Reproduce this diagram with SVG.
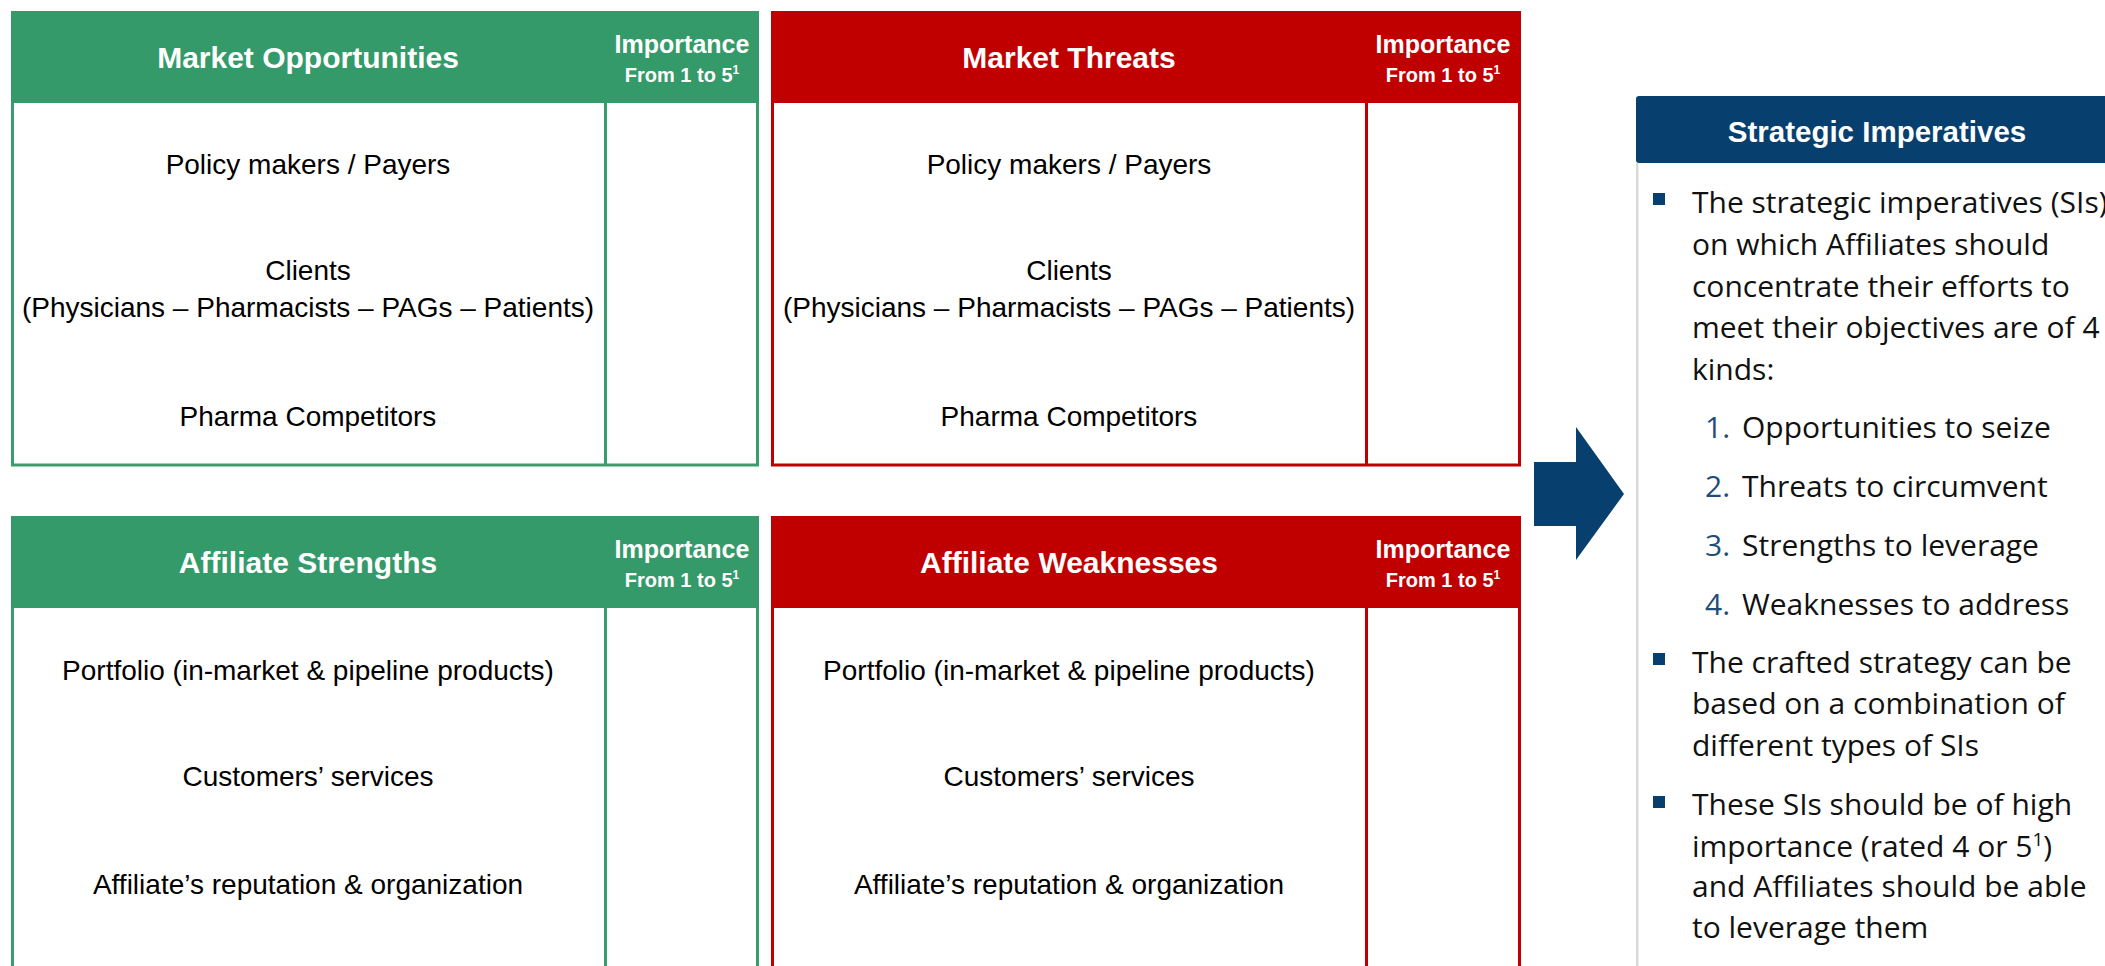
<svg xmlns="http://www.w3.org/2000/svg" width="2105" height="966" viewBox="0 0 2105 966">
<style>
.hdr-g{fill:#349A69}
.hdr-r{fill:#C00000}
.bd-g{fill:none;stroke:#3A9D6D;stroke-width:3}
.bd-r{fill:none;stroke:#C00000;stroke-width:3}
.title{font-family:"Liberation Sans",Arial,sans-serif;font-weight:bold;font-size:30px;fill:#fff;text-anchor:middle}
.imp{font-family:"Liberation Sans",Arial,sans-serif;font-weight:bold;font-size:25px;fill:#fff;text-anchor:middle}
.from{font-family:"Liberation Sans",Arial,sans-serif;font-weight:bold;font-size:20px;fill:#fff;text-anchor:middle}
.body{font-family:"Liberation Sans",Arial,sans-serif;font-size:28px;fill:#000;text-anchor:middle}
.si{font-family:"Open Sans","Liberation Sans",sans-serif;font-size:30px;fill:#111}
.sih{font-family:"Liberation Sans",Arial,sans-serif;font-weight:bold;font-size:29.5px;fill:#fff;text-anchor:middle}
.num{fill:#1F4E79}
.blue{fill:#073F6F}
</style>
<rect width="2105" height="966" fill="#fff"/>

<g id="market-opportunities">
<rect class="hdr-g" x="11" y="11" width="748" height="92"/>
<path class="bd-g" d="M12.5 103 V465 H757.5 V103 M605.5 103 V465"/>
<text class="title" x="308" y="68">Market Opportunities</text>
<text class="imp" x="682" y="53">Importance</text>
<text class="from" x="682" y="82">From 1 to 5<tspan font-size="12" dy="-8">1</tspan></text>
<text class="body" x="308" y="174">Policy makers / Payers</text>
<text class="body" x="308" y="280">Clients</text>
<text class="body" x="308" y="317">(Physicians – Pharmacists – PAGs – Patients)</text>
<text class="body" x="308" y="426">Pharma Competitors</text>
</g>

<g id="market-threats">
<rect class="hdr-r" x="771" y="11" width="750" height="92"/>
<path class="bd-r" d="M772.5 103 V465 H1519.5 V103 M1366.5 103 V465"/>
<text class="title" x="1069" y="68">Market Threats</text>
<text class="imp" x="1443" y="53">Importance</text>
<text class="from" x="1443" y="82">From 1 to 5<tspan font-size="12" dy="-8">1</tspan></text>
<text class="body" x="1069" y="174">Policy makers / Payers</text>
<text class="body" x="1069" y="280">Clients</text>
<text class="body" x="1069" y="317">(Physicians – Pharmacists – PAGs – Patients)</text>
<text class="body" x="1069" y="426">Pharma Competitors</text>
</g>

<g id="affiliate-strengths">
<rect class="hdr-g" x="11" y="516" width="748" height="92"/>
<path class="bd-g" d="M12.5 608 V975 M757.5 608 V975 M605.5 608 V975"/>
<text class="title" x="308" y="573">Affiliate Strengths</text>
<text class="imp" x="682" y="558">Importance</text>
<text class="from" x="682" y="587">From 1 to 5<tspan font-size="12" dy="-8">1</tspan></text>
<text class="body" x="308" y="680">Portfolio (in-market &amp; pipeline products)</text>
<text class="body" x="308" y="786">Customers’ services</text>
<text class="body" x="308" y="894">Affiliate’s reputation &amp; organization</text>
</g>

<g id="affiliate-weaknesses">
<rect class="hdr-r" x="771" y="516" width="750" height="92"/>
<path class="bd-r" d="M772.5 608 V975 M1519.5 608 V975 M1366.5 608 V975"/>
<text class="title" x="1069" y="573">Affiliate Weaknesses</text>
<text class="imp" x="1443" y="558">Importance</text>
<text class="from" x="1443" y="587">From 1 to 5<tspan font-size="12" dy="-8">1</tspan></text>
<text class="body" x="1069" y="680">Portfolio (in-market &amp; pipeline products)</text>
<text class="body" x="1069" y="786">Customers’ services</text>
<text class="body" x="1069" y="894">Affiliate’s reputation &amp; organization</text>
</g>

<g id="connectors">
<polygon class="blue" points="1534,462 1576,462 1576,427 1624,494 1576,560 1576,526 1534,526"/>
</g>

<g id="strategic-imperatives">
<rect class="blue" x="1636" y="96" width="490" height="67" rx="3"/>
<rect x="1636" y="163" width="2.5" height="810" fill="#D9D9D9"/>
<text class="sih" x="1877" y="142">Strategic Imperatives</text>
<rect class="blue" x="1653" y="193" width="12" height="12"/>
<text class="si" x="1692" y="213">The strategic imperatives (SIs)</text>
<text class="si" x="1692" y="255">on which Affiliates should</text>
<text class="si" x="1692" y="297">concentrate their efforts to</text>
<text class="si" x="1692" y="338">meet their objectives are of 4</text>
<text class="si" x="1692" y="380">kinds:</text>
<text class="si" y="438"><tspan class="num" x="1705">1.</tspan><tspan x="1742">Opportunities to seize</tspan></text>
<text class="si" y="497"><tspan class="num" x="1705">2.</tspan><tspan x="1742">Threats to circumvent</tspan></text>
<text class="si" y="556"><tspan class="num" x="1705">3.</tspan><tspan x="1742">Strengths to leverage</tspan></text>
<text class="si" y="615"><tspan class="num" x="1705">4.</tspan><tspan x="1742">Weaknesses to address</tspan></text>
<rect class="blue" x="1653" y="653" width="12" height="12"/>
<text class="si" x="1692" y="673">The crafted strategy can be</text>
<text class="si" x="1692" y="714">based on a combination of</text>
<text class="si" x="1692" y="756">different types of SIs</text>
<rect class="blue" x="1653" y="796" width="12" height="12"/>
<text class="si" x="1692" y="815">These SIs should be of high</text>
<text class="si" x="1692" y="857">importance (rated 4 or 5<tspan font-size="19" dy="-11">1</tspan><tspan dy="11">)</tspan></text>
<text class="si" x="1692" y="897">and Affiliates should be able</text>
<text class="si" x="1692" y="938">to leverage them</text>
</g>
</svg>
